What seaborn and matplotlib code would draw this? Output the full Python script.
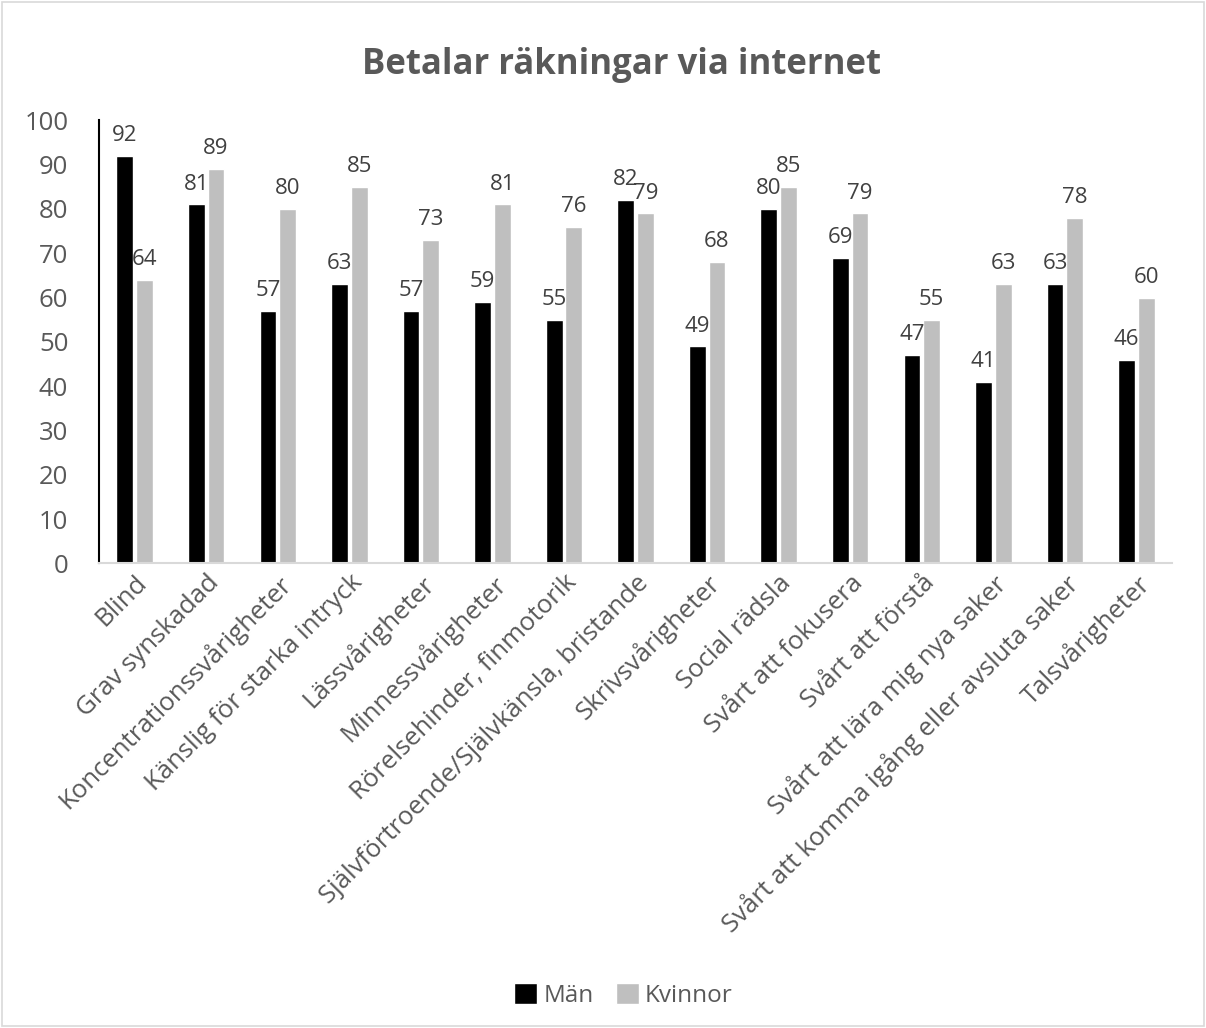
import pandas as pd
import matplotlib
matplotlib.use("Agg")
import matplotlib.pyplot as plt
import seaborn as sns
from matplotlib.patches import Rectangle

# ---------- data ----------
categories = [
    "Blind", "Grav synskadad", "Koncentrationssvårigheter",
    "Känslig för starka intryck", "Lässvårigheter", "Minnessvårigheter",
    "Rörelsehinder, finmotorik", "Självförtroende/Självkänsla, bristande",
    "Skrivsvårigheter", "Social rädsla", "Svårt att fokusera",
    "Svårt att förstå", "Svårt att lära mig nya saker",
    "Svårt att komma igång eller avsluta saker", "Talsvårigheter",
]
man = [92, 81, 57, 63, 57, 59, 55, 82, 49, 80, 69, 47, 41, 63, 46]
kvinnor = [64, 89, 80, 85, 73, 81, 76, 79, 68, 85, 79, 55, 63, 78, 60]
series = ["Män", "Kvinnor"]

df = pd.DataFrame({
    "kategori": categories * 2,
    "andel": man + kvinnor,
    "kon": [series[0]] * len(man) + [series[1]] * len(kvinnor),
})

# ---------- style ----------
sns.set_style("white")
plt.rcParams["font.family"] = ["Open Sans", "DejaVu Sans"]
txt = "#595959"

fig = plt.figure(figsize=(12.06, 10.28), dpi=100)
ax = fig.add_axes([0.082, 0.452, 0.890, 0.431])

sns.barplot(data=df, x="kategori", y="andel", hue="kon",
            palette=["#000000", "#BFBFBF"], width=0.55, gap=0.15,
            saturation=1, ax=ax, legend=True)

for cont in ax.containers:
    ax.bar_label(cont, padding=7, fontsize=16, color="#404040")

ax.set_ylim(0, 100)
ax.set_yticks(range(0, 101, 10))
ax.set_xlim(-0.5, len(categories) - 0.5)
ax.set_xlabel("")
ax.set_ylabel("")
ax.tick_params(axis="y", labelsize=18.5, colors=txt, length=0, pad=22)
ax.tick_params(axis="x", labelsize=18.5, colors=txt, length=0, pad=5)
plt.setp(ax.get_xticklabels(), rotation=45, ha="right", rotation_mode="anchor")
for lab in ax.get_xticklabels():
    lab.set_color(txt)

ax.spines["top"].set_visible(False)
ax.spines["right"].set_visible(False)
ax.spines["left"].set_color("black")
ax.spines["left"].set_linewidth(1.5)
ax.spines["bottom"].set_color("#D9D9D9")
ax.spines["bottom"].set_linewidth(1.5)

ax.legend_.remove()
handles, labels = ax.get_legend_handles_labels()
fig.legend(handles, labels, loc="center", bbox_to_anchor=(0.517, 0.032),
           ncol=2, frameon=False, fontsize=17.5, labelcolor=txt,
           handlelength=0.95, handleheight=0.95, handletextpad=0.25,
           columnspacing=0.9)

fig.text(0.515, 0.937, "Betalar räkningar via internet", ha="center",
         va="center", fontsize=25, fontweight="bold", color=txt)

# light frame round the chart
fig.patches.append(Rectangle((0.002, 0.002), 0.996, 0.996, transform=fig.transFigure,
                             fill=False, edgecolor="#D9D9D9", linewidth=1.2))

fig.savefig("out.png", dpi=100, facecolor="white")
